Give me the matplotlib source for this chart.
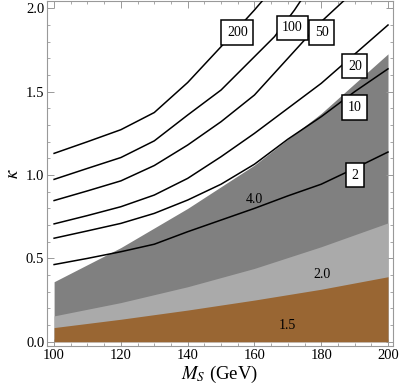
import matplotlib
matplotlib.use("Agg")
import matplotlib.pyplot as plt
from matplotlib.ticker import MultipleLocator
import numpy as np

plt.rcParams['font.family'] = ['Liberation Serif', 'DejaVu Serif']
plt.rcParams['mathtext.fontset'] = 'stix'

# ---- shaded regions (upper boundaries vs M_S) ----
ms = [100, 120, 140, 160, 180, 200]
top_40 = [0.36, 0.565, 0.80, 1.06, 1.37, 1.727]
top_20 = [0.155, 0.235, 0.33, 0.44, 0.57, 0.713]
top_15 = [0.085, 0.135, 0.19, 0.25, 0.315, 0.39]
region_labels = ['4.0', '2.0', '1.5']
region_pos = [(159.9, 0.853), (180.2, 0.405), (170.0, 0.10)]

# ---- contour lines ----
x_200 = [100, 110, 120, 130, 140, 150, 160, 163]
k_200 = [1.13, 1.20, 1.272, 1.375, 1.555, 1.77, 1.99, 2.06]
x_100 = [100, 110, 120, 130, 140, 150, 160, 166, 172, 174]
k_100 = [0.974, 1.04, 1.105, 1.205, 1.36, 1.51, 1.71, 1.83, 1.99, 2.05]
x_50 = [100, 110, 120, 130, 140, 150, 160, 170, 180, 187]
k_50 = [0.847, 0.905, 0.965, 1.057, 1.18, 1.32, 1.48, 1.70, 1.92, 2.05]
x_grid = [100, 110, 120, 130, 140, 150, 160, 170, 180, 190, 200]
k_20 = [0.707, 0.757, 0.81, 0.88, 0.98, 1.11, 1.25, 1.40, 1.55, 1.725, 1.90]
k_10 = [0.621, 0.665, 0.71, 0.77, 0.85, 0.945, 1.065, 1.215, 1.35, 1.50, 1.637]
k_2 = [0.463, 0.50, 0.54, 0.585, 0.66, 0.73, 0.80, 0.875, 0.945, 1.04, 1.138]

contours = [(x_200, k_200), (x_100, k_100), (x_50, k_50),
            (x_grid, k_20), (x_grid, k_10), (x_grid, k_2)]
contour_labels = ['200', '100', '50', '20', '10', '2']
contour_label_pos = [(154.9, 1.855), (171.4, 1.884), (180.1, 1.855),
                     (190.1, 1.654), (190.1, 1.405), (190.0, 1.0)]

fig = plt.figure(figsize=(3.99, 3.92), dpi=100)
ax = fig.add_axes([0.118, 0.118, 0.867, 0.879])

ax.fill_between(ms, 0, top_40, color='#808080', lw=0, zorder=1)
ax.fill_between(ms, 0, top_20, color='#aaaaaa', lw=0, zorder=2)
ax.fill_between(ms, 0, top_15, color='#996633', lw=0, zorder=3)

for (xs, ks) in contours:
    ax.plot(xs, ks, color='black', lw=1.1, zorder=4)

for lab, (x, y) in zip(contour_labels, contour_label_pos):
    ax.text(x, y, lab, ha='center', va='center', fontsize=10, zorder=6,
            bbox=dict(boxstyle='square,pad=0.4', fc='white', ec='black', lw=1.1))

for lab, (x, y) in zip(region_labels, region_pos):
    ax.text(x, y, lab, ha='center', va='center', fontsize=10, zorder=5)

ax.set_xlim(97.9, 201.5)
ax.set_ylim(-0.024, 2.043)
ax.xaxis.set_minor_locator(MultipleLocator(5))
ax.yaxis.set_minor_locator(MultipleLocator(0.1))
ax.set_xticks([100, 120, 140, 160, 180, 200])
ax.set_yticks([0.0, 0.5, 1.0, 1.5, 2.0])
ax.set_yticklabels(['0.0', '0.5', '1.0', '1.5', '2.0'])
ax.tick_params(which='both', direction='in', top=True, right=True,
               color='#999999', labelsize=10.5, pad=2)
ax.tick_params(which='major', length=5, width=0.7)
ax.tick_params(which='minor', length=2.5, width=0.6)
for s in ax.spines.values():
    s.set_color('#999999')
    s.set_linewidth(0.8)

ax.set_xlabel(r'$M_S$ (GeV)', fontsize=13.5, labelpad=2)
ax.set_ylabel(r'$\kappa$', fontsize=13.5, labelpad=3)

fig.savefig('out.png', dpi=100)
